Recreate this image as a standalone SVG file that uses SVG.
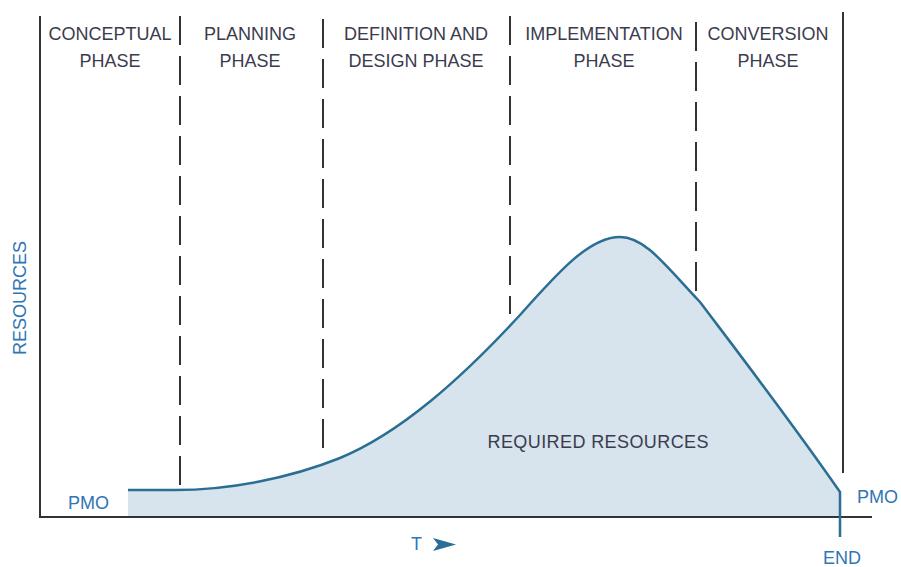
<svg xmlns="http://www.w3.org/2000/svg" width="901" height="567" viewBox="0 0 901 567">
<style>
.ph{font-family:"Liberation Sans",Arial,sans-serif;font-size:18px;fill:#3b3b4e;text-anchor:middle}
.bl{font-family:"Liberation Sans",Arial,sans-serif;font-size:18px;fill:#2f76b4}
.ax{stroke:#333;stroke-width:2;fill:none}
.dash{stroke:#333;stroke-width:2;fill:none;stroke-dasharray:29 11}
</style>
<rect width="901" height="567" fill="#fff"/>
<g id="area">
<path d="M128,490 L175,490 C230,490 290,478 340,458 C400,433 460,380 520,315 C560,270 590,237 620,237 C645,237 665,265 700,302 C740,355 790,420 840,492 L840,517 L128,517 Z" fill="#d7e3ed"/>
</g>
<g id="axes">
<path class="ax" d="M40,16 L40,517 L872,517"/>
</g>
<g id="dividers">
<line class="dash" x1="180" y1="16" x2="180" y2="490"/>
<line class="dash" x1="323" y1="19" x2="323" y2="456"/>
<line class="dash" x1="510" y1="16" x2="510" y2="314"/>
<line class="dash" x1="696" y1="22" x2="696" y2="298"/>
<line class="ax" x1="843" y1="12" x2="843" y2="473"/>
</g>
<g id="curve">
<path d="M128,490 L175,490 C230,490 290,478 340,458 C400,433 460,380 520,315 C560,270 590,237 620,237 C645,237 665,265 700,302 C740,355 790,420 840,492 L840,537" fill="none" stroke="#2a6e93" stroke-width="2.5"/>
</g>
<g id="labels">
<text class="ph" x="110" y="40">CONCEPTUAL</text>
<text class="ph" x="110" y="67">PHASE</text>
<text class="ph" x="250" y="40">PLANNING</text>
<text class="ph" x="250" y="67">PHASE</text>
<text class="ph" x="416" y="40">DEFINITION AND</text>
<text class="ph" x="416" y="67">DESIGN PHASE</text>
<text class="ph" x="604" y="40">IMPLEMENTATION</text>
<text class="ph" x="604" y="67">PHASE</text>
<text class="ph" x="768" y="40">CONVERSION</text>
<text class="ph" x="768" y="67">PHASE</text>
<text class="ph" x="598" y="448" textLength="221">REQUIRED RESOURCES</text>
<text class="bl" x="26" y="298" text-anchor="middle" transform="rotate(-90 26 298)">RESOURCES</text>
<text class="bl" x="68" y="509">PMO</text>
<text class="bl" x="857" y="503">PMO</text>
<text class="bl" x="823" y="564">END</text>
<text class="bl" x="411" y="550">T</text>
<path d="M433,538 L456,544.5 L433,551 L438,544.5 Z" fill="#2a6e93"/>
</g>
</svg>
